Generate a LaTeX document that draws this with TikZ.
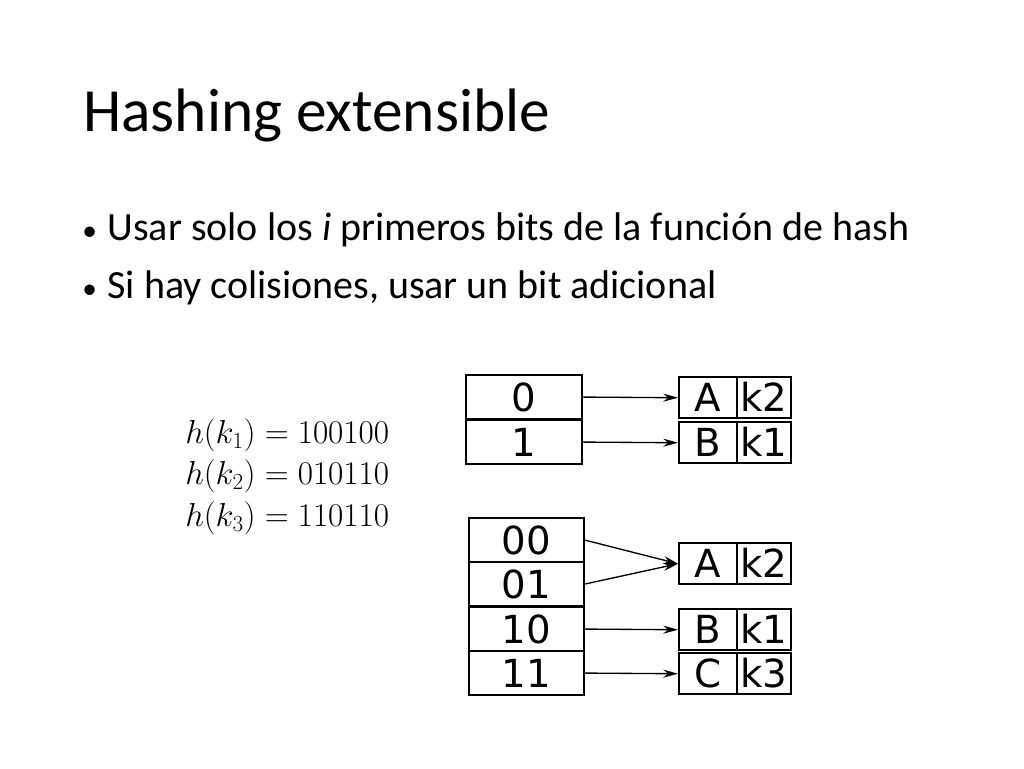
\documentclass[tikz,border=0pt]{standalone}
\usepackage{fontspec}
\setmainfont{Carlito}
\newfontfamily\djvfont{DejaVu Sans}
\usetikzlibrary{arrows.meta}
\begin{document}
\begin{tikzpicture}[x=0.75pt,y=-0.75pt,
  cell/.style={draw,line width=1.6pt,minimum height=33pt,inner sep=0pt,text height=21pt,text depth=0pt,font=\djvfont\fontsize{29}{29}\selectfont,anchor=north west},
  arr/.style={-{Stealth[length=11pt,width=6pt]},line width=1pt},
  txt/.style={anchor=west,inner sep=0pt}]
\useasboundingbox (0,0) rectangle (1024,768);
\node[txt,font=\fontsize{46}{46}\selectfont] (title) at (83,115) {Hashing extensible};
\node[txt,font=\fontsize{30}{30}\selectfont] (b1) at (82,230) {{\fontsize{22}{22}\selectfont•}\hspace{8pt}Usar solo los \textit{i} primeros bits de la función de hash};
\node[txt,font=\fontsize{30}{30}\selectfont] (b2) at (82,288) {{\fontsize{22}{22}\selectfont•}\hspace{8pt}Si hay colisiones, usar un bit adicional};
\node[txt,font=\fontsize{25}{25}\selectfont] (f1) at (185,435) {$h(k_1)=100100$};
\node[txt,font=\fontsize{25}{25}\selectfont] (f2) at (185,476) {$h(k_2)=010110$};
\node[txt,font=\fontsize{25}{25}\selectfont] (f3) at (185,518) {$h(k_3)=110110$};
% top table
\node[cell,minimum width=87pt] (t0) at (465,374) {0};
\node[cell,minimum width=87pt] (t1) at (465,419) {1};
\node[cell,minimum width=43.5pt,minimum height=31pt] (ta) at (678,376) {A};
\node[cell,minimum width=40.5pt,minimum height=31pt] (tk2) at (736,376) {k2};
\node[cell,minimum width=43.5pt,minimum height=31pt] (tb) at (678,421) {B};
\node[cell,minimum width=40.5pt,minimum height=31pt] (tk1) at (736,421) {k1};
\draw[arr] (t0.east) -- (ta.west);
\draw[arr] (t1.east) -- (tb.west);
% bottom table
\node[cell,minimum width=86pt] (u0) at (468,517) {00};
\node[cell,minimum width=86pt] (u1) at (468,561) {01};
\node[cell,minimum width=86pt] (u2) at (468,606) {10};
\node[cell,minimum width=86pt] (u3) at (468,650) {11};
\node[cell,minimum width=43.5pt,minimum height=31pt] (ua) at (678,542) {A};
\node[cell,minimum width=40.5pt,minimum height=31pt] (uk2) at (736,542) {k2};
\node[cell,minimum width=43.5pt,minimum height=31pt] (ub) at (678,608) {B};
\node[cell,minimum width=40.5pt,minimum height=31pt] (uk1) at (736,608) {k1};
\node[cell,minimum width=43.5pt,minimum height=31pt] (uc) at (678,652) {C};
\node[cell,minimum width=40.5pt,minimum height=31pt] (uk3) at (736,652) {k3};
\draw[arr] (u0.east) -- (ua.west);
\draw[arr] (u1.east) -- (ua.west);
\draw[arr] (u2.east) -- (ub.west);
\draw[arr] (u3.east) -- (uc.west);
\end{tikzpicture}
\end{document}
